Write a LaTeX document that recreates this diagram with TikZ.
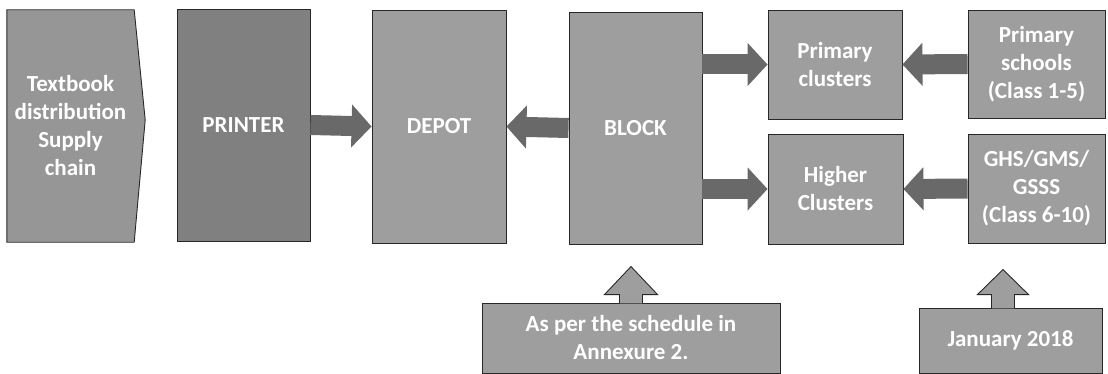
\documentclass[tikz,border=0pt]{standalone}
\usepackage{fontspec}
\setmainfont{Carlito}
\usetikzlibrary{arrows.meta,calc}
\definecolor{boxgray}{RGB}{158,158,158}
\definecolor{darkbox}{RGB}{128,128,128}
\definecolor{leftgray}{RGB}{150,150,150}
\definecolor{arrowgray}{RGB}{105,105,105}
\definecolor{edgegray}{RGB}{40,40,40}
\begin{document}
\begin{tikzpicture}[x=1pt,y=-1pt,
  box/.style={draw=edgegray, line width=0.9pt, fill=boxgray, inner sep=0pt,
    text=white, font=\bfseries\fontsize{23}{28}\selectfont, align=center},
  barrow/.style={line width=20pt, draw=arrowgray, -{Triangle[length=20pt,width=42pt]}},
  uparrowpoly/.style={fill=boxgray, draw=edgegray, line width=0.9pt, line join=miter}]
\useasboundingbox (0,0) rectangle (1108,374);
\fill[white] (0,0) rectangle (1108,374);
% left title shape
\node[inner sep=0pt, minimum width=127pt, minimum height=232pt] (tb) at (70.5,126) {};
\filldraw[draw=edgegray, line width=0.9pt, fill=leftgray]
  (tb.north west) -- (tb.north east) -- ($(tb.east)+(11,-6)$) -- (tb.south east) -- (tb.south west) -- cycle;
\node[text=white, font=\bfseries\fontsize{23}{28}\selectfont, align=center] (tbtext) at (tb.center) {Textbook\\distribution\\Supply\\chain};
\node[box, fill=darkbox, minimum width=133pt, minimum height=232pt] (printer) at (243.5,125) {PRINTER};
\node[box, minimum width=134pt, minimum height=233pt] (depot) at (439,126.5) {DEPOT};
\node[box, minimum width=133pt, minimum height=232pt] (block) at (635.5,128) {BLOCK};
\node[box, minimum width=134pt, minimum height=109pt] (pc) at (835,64.5) {Primary\\clusters};
\node[box, minimum width=135pt, minimum height=110pt] (hc) at (835.5,189) {Higher\\Clusters};
\node[box, minimum width=137pt, minimum height=108pt] (ps) at (1036.5,64) {Primary\\schools\\(Class 1-5)};
\node[box, minimum width=137pt, minimum height=109pt] (ghs) at (1036.5,188.5) {GHS/GMS/\\GSSS\\(Class 6-10)};
\node[box, minimum width=298pt, minimum height=70pt] (sched) at (631,338) {As per the schedule in\\Annexure 2.};
\node[box, minimum width=183pt, minimum height=65pt] (jan) at (1010.5,340.5) {January 2018};
% connectors
\draw[barrow] (printer.east) -- (depot.west);
\draw[barrow] (block.west) -- (depot.east);
\draw[barrow] (block.east |- pc.west) -- (pc.west);
\draw[barrow] (block.east |- hc.west) -- (hc.west);
\draw[barrow] (ps.west) -- (pc.east);
\draw[barrow] (ghs.west) -- (hc.east);
% up block arrows rising from the bottom boxes
\filldraw[uparrowpoly] ($(sched.north)+(-11.5,0.9)$) -- ++(0,-8.9) -- ++(-15,0) -- ++(26.5,-28) -- ++(26.5,28) -- ++(-15,0) -- ++(0,8.9);
\filldraw[uparrowpoly] ($(jan.north)+(-19,0.9)$) -- ++(0,-13.9) -- ++(-14,0) -- ++(25.5,-25) -- ++(25.5,25) -- ++(-14,0) -- ++(0,13.9);
\end{tikzpicture}
\end{document}
